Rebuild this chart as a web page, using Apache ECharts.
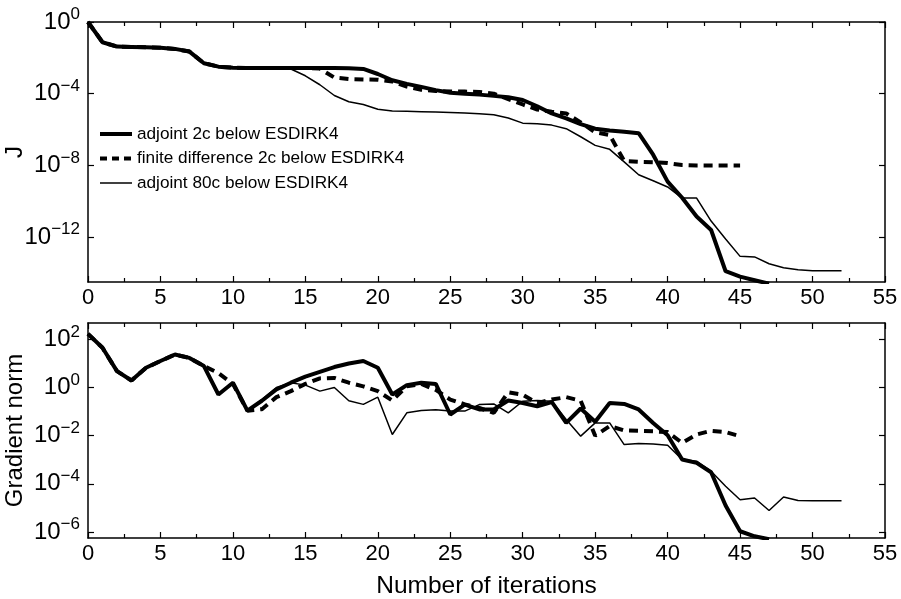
<!DOCTYPE html>
<html><head><meta charset="utf-8">
<script src="https://cdn.jsdelivr.net/npm/echarts@6/dist/echarts.min.js"></script>
<style>html,body{margin:0;padding:0;background:#fff}#c{width:901px;height:599px}</style>
</head><body><div id="c"></div>
<script>
// Iteration numbers
const iterations = [0,1,2,3,4,5,6,7,8,9,10,11,12,13,14,15,16,17,18,19,20,21,22,23,24,25,26,27,28,29,30,31,32,33,34,35,36,37,38,39,40,41,42,43,44,45,46,47,48,49,50,51,52];
// Legend names
const seriesNames = ['adjoint 2c below ESDIRK4', 'finite difference 2c below ESDIRK4', 'adjoint 80c below ESDIRK4'];
// log10(J)
const log10J_adj2c = [0,-1.13,-1.37,-1.39,-1.41,-1.43,-1.5,-1.65,-2.3,-2.49,-2.55,-2.57,-2.57,-2.57,-2.57,-2.57,-2.57,-2.57,-2.58,-2.62,-2.9,-3.25,-3.45,-3.62,-3.8,-3.95,-4.0,-4.05,-4.12,-4.2,-4.35,-4.7,-5.1,-5.37,-5.7,-5.95,-6.05,-6.12,-6.2,-7.4,-8.9,-9.8,-10.85,-11.6,-13.9,-14.2,-14.4,-14.6];
const log10J_fd2c = [0,-1.13,-1.37,-1.39,-1.41,-1.43,-1.5,-1.65,-2.3,-2.49,-2.55,-2.57,-2.57,-2.57,-2.57,-2.57,-2.6,-3.1,-3.18,-3.2,-3.22,-3.32,-3.6,-3.78,-3.85,-3.88,-3.88,-3.9,-4.0,-4.3,-4.6,-4.88,-5.0,-5.1,-5.6,-6.15,-6.3,-7.75,-7.8,-7.82,-7.87,-7.98,-8.0,-8.0,-8.0,-8.0];
const log10J_adj80c = [0,-1.13,-1.37,-1.39,-1.41,-1.43,-1.5,-1.65,-2.3,-2.49,-2.55,-2.57,-2.57,-2.57,-2.62,-3.0,-3.5,-4.1,-4.45,-4.6,-4.87,-4.96,-4.98,-5.0,-5.02,-5.05,-5.08,-5.12,-5.17,-5.35,-5.64,-5.67,-5.75,-5.95,-6.4,-6.88,-7.1,-7.8,-8.52,-8.85,-9.2,-9.82,-9.82,-11.1,-12.1,-13.07,-13.1,-13.48,-13.7,-13.82,-13.87,-13.87,-13.87];
// log10(gradient norm)
const log10G_adj2c = [2.23,1.65,0.68,0.29,0.82,1.1,1.37,1.23,0.89,-0.29,0.2,-0.96,-0.55,-0.08,0.2,0.45,0.65,0.85,1.0,1.1,0.82,-0.29,0.1,0.2,0.15,-1.12,-0.71,-0.91,-0.91,-0.54,-0.64,-0.78,-0.6,-1.47,-0.87,-1.42,-0.64,-0.68,-0.91,-1.47,-1.98,-2.99,-3.13,-3.52,-4.9,-5.97,-6.18,-6.3];
const log10G_fd2c = [2.23,1.65,0.68,0.29,0.82,1.1,1.37,1.23,0.89,0.6,0.15,-0.96,-0.9,-0.4,-0.15,0.15,0.38,0.4,0.2,0.05,-0.15,-0.54,0.05,0.15,-0.1,-0.5,-0.7,-0.85,-1.05,-0.2,-0.3,-0.65,-0.5,-0.4,-0.55,-2.0,-1.6,-1.78,-1.8,-1.82,-1.85,-2.3,-1.95,-1.8,-1.85,-2.02];
const log10G_adj80c = [2.23,1.65,0.68,0.29,0.82,1.1,1.37,1.23,0.89,-0.29,0.2,-0.96,-0.5,0.0,0.2,0.1,-0.15,0.0,-0.55,-0.7,-0.4,-1.95,-1.05,-0.95,-0.92,-0.98,-0.98,-0.71,-0.68,-1.05,-0.57,-0.54,-0.57,-1.33,-2.02,-1.47,-1.47,-2.37,-2.33,-2.35,-2.4,-2.99,-3.06,-3.48,-4.1,-4.66,-4.59,-5.11,-4.55,-4.69,-4.7,-4.7,-4.7];
// Axis settings
const xTicks = {min: 0, max: 55, interval: 5};
const jTickExps = [-12, -8, -4, 0];
const gTickExps = [-6, -4, -2, 0, 2];
const jRange = [-14.5, 0];
const gRange = [-6.25, 2.68];

const FONT = "'Liberation Sans', Arial, sans-serif";
const pair = (vals) => vals.map((v, i) => [iterations[i], v]);
const fmtPow = (v) => {
  const e = v < 0 ? '\u2212' + (-v) : String(v);
  return '{b|10}{s|' + e + '}';
};
const axLine = {show: true, onZero: false, lineStyle: {color: '#000', width: 1.5}};

function xAxes(gi, showLabel, withName) {
  const base = {
    type: 'value', gridIndex: gi, min: xTicks.min, max: xTicks.max, interval: xTicks.interval,
    axisLine: axLine,
    axisTick: {show: true, inside: true, length: 6, lineStyle: {color: '#000', width: 1.2}},
    minorTick: {show: true, splitNumber: 2, length: 4, lineStyle: {color: '#000', width: 1.2}},
    splitLine: {show: false}, minorSplitLine: {show: false}
  };
  const bottom = Object.assign({}, base, {
    position: 'bottom',
    axisLabel: {show: showLabel, fontSize: 22, color: '#000', fontFamily: FONT, margin: 5}
  });
  if (withName) {
    Object.assign(bottom, {name: 'Number of iterations', nameLocation: 'middle', nameGap: 36,
      nameMoveOverlap: false,
      nameTextStyle: {fontSize: 24.5, color: '#000', fontFamily: FONT}});
  }
  const top = Object.assign({}, base, {position: 'top', axisLabel: {show: false}});
  return [bottom, top];
}
function yAxes(gi, range, ticks, name) {
  const base = {
    type: 'value', gridIndex: gi, min: range[0], max: range[1],
    axisLine: axLine,
    axisTick: {show: true, inside: true, length: 6, customValues: ticks, lineStyle: {color: '#000', width: 1.2}},
    splitLine: {show: false}
  };
  const left = Object.assign({}, base, {
    position: 'left', name: name, nameLocation: 'middle', nameGap: 61, nameMoveOverlap: false,
    nameTextStyle: {fontSize: 24, color: '#000', fontFamily: FONT},
    axisLabel: {show: true, customValues: ticks, margin: 8, formatter: fmtPow, color: '#000',
      rich: {b: {fontSize: 24, fontFamily: FONT, color: '#000'},
             s: {fontSize: 17, fontFamily: FONT, color: '#000', padding: [0, 0, 15, 0]}}}
  });
  const right = Object.assign({}, base, {position: 'right', axisLabel: {show: false}});
  return [left, right];
}

const styles = [
  {width: 4, type: 'solid'},
  {width: 4, type: [9, 6]},
  {width: 1.5, type: 'solid'}
];
const legendDash = [7, 5];
function mk(name, vals, gi, st) {
  return {
    name: name, type: 'line', xAxisIndex: gi * 2, yAxisIndex: gi * 2,
    data: pair(vals), symbol: 'none', showSymbol: false, clip: true,
    lineStyle: {color: '#000', width: st.width, type: st.type},
    itemStyle: {color: '#000'}
  };
}

const chart = echarts.init(document.getElementById('c'), null, {renderer: 'canvas'});
chart.setOption({
  animation: false,
  backgroundColor: '#fff',
  textStyle: {fontFamily: FONT},
  grid: [
    {left: 88, right: 16, top: 22, height: 260, containLabel: false, outerBoundsMode: 'none'},
    {left: 88, right: 16, top: 323, height: 215, containLabel: false, outerBoundsMode: 'none'}
  ],
  xAxis: [...xAxes(0, true, false), ...xAxes(1, true, true)],
  yAxis: [...yAxes(0, jRange, jTickExps, 'J'), ...yAxes(1, gRange, gTickExps, 'Gradient norm')],
  legend: {
    data: [
      {name: seriesNames[0], lineStyle: {width: styles[0].width, type: 'solid', color: '#000'}},
      {name: seriesNames[1], lineStyle: {width: styles[1].width, type: legendDash, color: '#000'}},
      {name: seriesNames[2], lineStyle: {width: styles[2].width, type: 'solid', color: '#000'}}
    ],
    orient: 'vertical', left: 93, top: 119, padding: 5,
    itemWidth: 32, itemHeight: 14, itemGap: 4.5,
    selectedMode: false,
    itemStyle: {color: 'rgba(0,0,0,0)', borderColor: 'rgba(0,0,0,0)', opacity: 0},
    textStyle: {fontSize: 17.2, color: '#000', fontFamily: FONT, lineHeight: 20}
  },
  series: [
    mk(seriesNames[0], log10J_adj2c, 0, styles[0]),
    mk(seriesNames[1], log10J_fd2c, 0, styles[1]),
    mk(seriesNames[2], log10J_adj80c, 0, styles[2]),
    mk(seriesNames[0], log10G_adj2c, 1, styles[0]),
    mk(seriesNames[1], log10G_fd2c, 1, styles[1]),
    mk(seriesNames[2], log10G_adj80c, 1, styles[2])
  ]
});
</script></body></html>
